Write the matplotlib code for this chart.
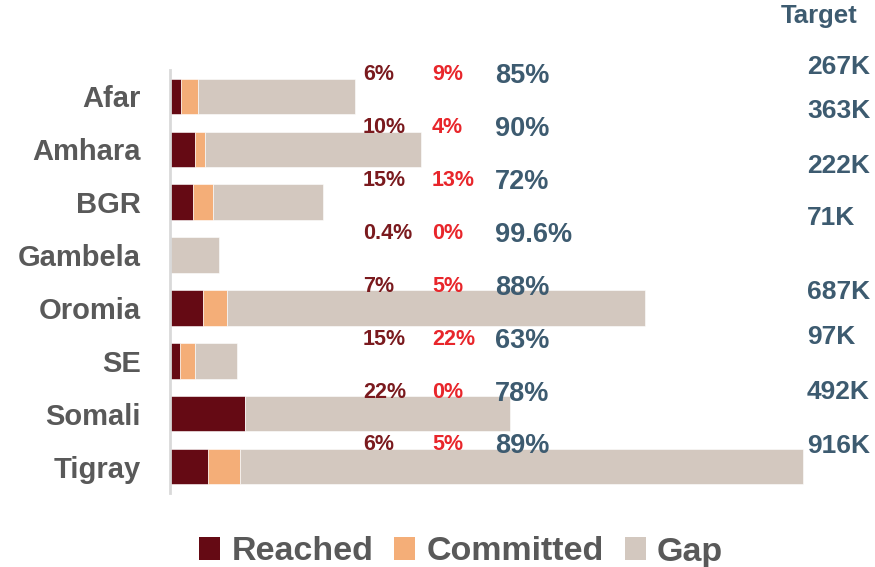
import matplotlib
matplotlib.use("Agg")
import matplotlib.pyplot as plt
from matplotlib.patches import Patch
from matplotlib.transforms import blended_transform_factory

# Regional data
regions = ["Afar", "Amhara", "BGR", "Gambela", "Oromia", "SE", "Somali", "Tigray"]
target_k = [267, 363, 222, 71, 687, 97, 492, 916]          # target in thousands
reached_pct = [6, 10, 15, 0.4, 7, 15, 22, 6]
committed_pct = [9, 4, 13, 0, 5, 22, 0, 5]
gap_pct = [85, 90, 72, 99.6, 88, 63, 78, 89]
reached_lbl = ["6%", "10%", "15%", "0.4%", "7%", "15%", "22%", "6%"]
committed_lbl = ["9%", "4%", "13%", "0%", "5%", "22%", "0%", "5%"]
gap_lbl = ["85%", "90%", "72%", "99.6%", "88%", "63%", "78%", "89%"]
target_lbl = ["267K", "363K", "222K", "71K", "687K", "97K", "492K", "916K"]

# Styling
C_REACHED = "#650A14"
C_COMMITTED = "#F4AE78"
C_GAP = "#D3C8BF"
T_REACHED = "#7A1A1E"
T_COMMITTED = "#E8262B"
T_BLUE = "#3D5B70"
T_GRAY = "#595959"
FONT = "Liberation Sans"

# vertical nudges of the target column, in row units
target_dy = [-0.55, -0.72, -0.68, -0.70, -0.31, -0.45, -0.41, -0.38]

W, H = 875, 567
fig = plt.figure(figsize=(W / 100, H / 100), dpi=100)
ax = fig.add_axes([170 / W, (H - 493) / H, (W - 170) / W, 423 / H])

xmax = 1020
ax.set_xlim(0, xmax)
ax.set_ylim(len(regions) - 0.5, -0.5)

y = list(range(len(regions)))
reached_v = [t * p / 100 for t, p in zip(target_k, reached_pct)]
committed_v = [t * p / 100 for t, p in zip(target_k, committed_pct)]
left3 = [a + b for a, b in zip(reached_v, committed_v)]
# the gap segment fills each bar out to its full target
gap_v = [t - l for t, l in zip(target_k, left3)]

bh = 0.67
ax.barh(y, reached_v, height=bh, color=C_REACHED, edgecolor="white", linewidth=0.4)
ax.barh(y, committed_v, left=reached_v, height=bh, color=C_COMMITTED, edgecolor="white", linewidth=0.4)
ax.barh(y, gap_v, left=left3, height=bh, color=C_GAP, edgecolor="white", linewidth=0.4)

for s in ["top", "right", "bottom"]:
    ax.spines[s].set_visible(False)
ax.spines["left"].set_color("#D9D9D9")
ax.spines["left"].set_linewidth(2)
ax.set_xticks([])
ax.set_yticks(y)
ax.set_yticklabels(regions, fontfamily=FONT, fontweight="bold", fontsize=21, color=T_GRAY)
ax.tick_params(axis="y", length=0, pad=21)

tr = blended_transform_factory(ax.transAxes, ax.transData)
def fx(px):
    return (px - 170) / (W - 170)

for i in y:
    ax.text(fx(363), i - 0.41, reached_lbl[i], transform=tr, ha="left", va="center",
            fontfamily=FONT, fontweight="bold", fontsize=15.5, color=T_REACHED, clip_on=False)
    ax.text(fx(432), i - 0.41, committed_lbl[i], transform=tr, ha="left", va="center",
            fontfamily=FONT, fontweight="bold", fontsize=15.5, color=T_COMMITTED, clip_on=False)
    ax.text(fx(495), i - 0.38, gap_lbl[i], transform=tr, ha="left", va="center",
            fontfamily=FONT, fontweight="bold", fontsize=19.5, color=T_BLUE, clip_on=False)
    ax.text(fx(807), i + target_dy[i], target_lbl[i], transform=tr, ha="left", va="center",
            fontfamily=FONT, fontweight="bold", fontsize=19, color=T_BLUE, clip_on=False)

fig.text(781 / W, 1 - 16 / H, "Target", ha="left", va="center",
         fontfamily=FONT, fontweight="bold", fontsize=18.5, color=T_BLUE)

handles = [Patch(facecolor=C_REACHED, label="Reached"),
           Patch(facecolor=C_COMMITTED, label="Committed"),
           Patch(facecolor=C_GAP, label="Gap")]
leg = fig.legend(handles=handles, loc="center", bbox_to_anchor=(461 / W, 1 - 552 / H),
                 ncol=3, frameon=False, handlelength=0.62, handleheight=0.62,
                 handletextpad=0.32, columnspacing=0.62,
                 prop={"family": FONT, "weight": "bold", "size": 24.5})
for t in leg.get_texts():
    t.set_color(T_GRAY)

fig.savefig("out.png", dpi=100)
